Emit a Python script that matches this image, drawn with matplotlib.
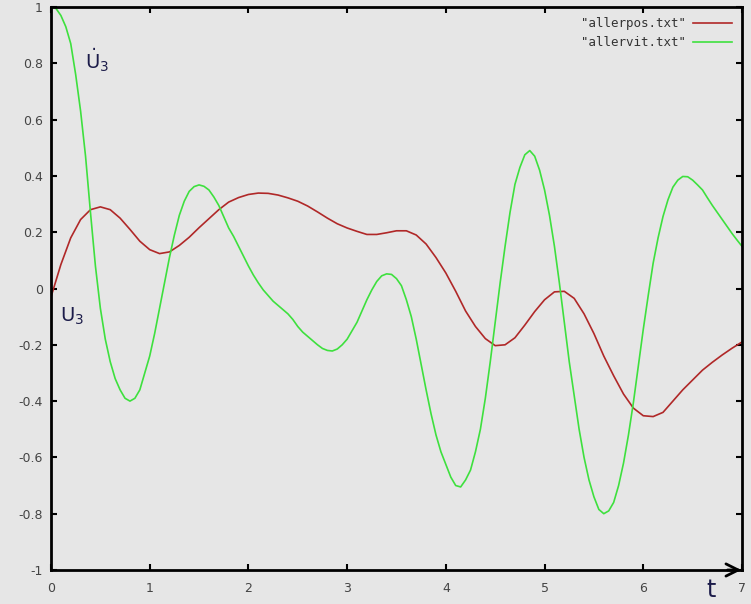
import numpy as np
import matplotlib
matplotlib.use("Agg")
import matplotlib.pyplot as plt
from matplotlib.ticker import FuncFormatter, MultipleLocator

# position series, sampled every 0.1
t_pos = np.round(np.arange(0, 7.01, 0.1), 2)
allerpos = [
    -0.03, 0.085, 0.18, 0.245, 0.28, 0.29, 0.28, 0.25, 0.21, 0.168,
    0.138, 0.124, 0.13, 0.153, 0.182, 0.216, 0.248, 0.28, 0.307, 0.323,
    0.334, 0.339, 0.338, 0.332, 0.322, 0.31, 0.293, 0.272, 0.25, 0.23,
    0.215, 0.203, 0.192, 0.192, 0.198, 0.205, 0.205, 0.19, 0.158, 0.11,
    0.055, -0.01, -0.08, -0.135, -0.178, -0.203, -0.2, -0.175, -0.13, -0.082,
    -0.04, -0.012, -0.01, -0.035, -0.09, -0.16, -0.24, -0.31, -0.375, -0.425,
    -0.452, -0.455, -0.44, -0.40, -0.36, -0.325, -0.29, -0.262, -0.236, -0.212,
    -0.19,
]

# velocity series, sampled every 0.05
t_vit = np.round(np.arange(0, 7.001, 0.05), 2)
allervit = [
    1.0, 0.995, 0.97, 0.93, 0.87, 0.76, 0.63, 0.47, 0.27, 0.08,
    -0.07, -0.18, -0.26, -0.32, -0.36, -0.39, -0.40, -0.39, -0.36, -0.30,
    -0.24, -0.16, -0.07, 0.02, 0.11, 0.19, 0.26, 0.31, 0.345, 0.362,
    0.368, 0.363, 0.35, 0.325, 0.295, 0.255, 0.215, 0.185, 0.15, 0.115,
    0.08, 0.048, 0.02, -0.005, -0.025, -0.045, -0.06, -0.075, -0.09, -0.11,
    -0.135, -0.155, -0.17, -0.185, -0.20, -0.213, -0.22, -0.222, -0.215, -0.2,
    -0.18, -0.15, -0.12, -0.08, -0.04, -0.005, 0.025, 0.045, 0.052, 0.05,
    0.035, 0.01, -0.04, -0.10, -0.18, -0.27, -0.36, -0.445, -0.52, -0.58,
    -0.625, -0.67, -0.70, -0.705, -0.68, -0.645, -0.58, -0.50, -0.39, -0.26,
    -0.12, 0.02, 0.15, 0.27, 0.37, 0.43, 0.475, 0.49, 0.47, 0.42,
    0.35, 0.26, 0.15, 0.02, -0.12, -0.26, -0.38, -0.50, -0.60, -0.68,
    -0.74, -0.785, -0.80, -0.79, -0.76, -0.70, -0.62, -0.52, -0.405, -0.275,
    -0.145, -0.025, 0.09, 0.18, 0.256, 0.315, 0.36, 0.385, 0.398, 0.397,
    0.385, 0.368, 0.35, 0.322, 0.295, 0.27, 0.245, 0.22, 0.195, 0.172,
    0.15,
]

bg = "#e6e6e6"
fig = plt.figure(figsize=(7.51, 6.04), dpi=100, facecolor=bg)
ax = fig.add_axes([0.0679, 0.0563, 0.9201, 0.9321], facecolor=bg)

ax.plot(t_pos, allerpos, color="#b02828", lw=1.2, label='"allerpos.txt"')
ax.plot(t_vit, allervit, color="#3ee03e", lw=1.2, label='"allervit.txt"')

ax.set_xlim(0, 7)
ax.set_ylim(-1, 1)
ax.xaxis.set_major_locator(MultipleLocator(1))
ax.yaxis.set_major_locator(MultipleLocator(0.2))
ax.yaxis.set_major_formatter(FuncFormatter(lambda v, p: "%g" % round(v, 2)))
ax.xaxis.set_major_formatter(FuncFormatter(lambda v, p: "%g" % v))

for s in ax.spines.values():
    s.set_linewidth(2)
    s.set_color("black")

ax.tick_params(direction="in", length=4, width=1.5, top=True, right=True,
               labelsize=9, labelcolor="#444444")
ax.tick_params(axis="x", pad=9)
ax.tick_params(axis="y", pad=6)

# arrow head at the end of the time axis
ax.annotate("", xy=(1.003, 0), xytext=(0.975, 0), xycoords="axes fraction",
            arrowprops=dict(arrowstyle="->", lw=2, color="black",
                            mutation_scale=22), annotation_clip=False)

navy = "#1c1c4a"
ax.text(0.955, -0.035, "t", transform=ax.transAxes, fontsize=17,
        color=navy, ha="center", va="center")
ax.text(0.34, 0.78, r"$\dot{\mathrm{U}}_3$", fontsize=14, color=navy,
        ha="left", va="baseline")
ax.text(0.09, -0.117, r"$\mathrm{U}_3$", fontsize=14, color=navy,
        ha="left", va="baseline")

leg = ax.legend(loc="upper right", frameon=False, markerfirst=False,
                handlelength=3.1, handletextpad=0.6, labelspacing=0.5,
                borderaxespad=0.4, prop={"family": "DejaVu Sans Mono", "size": 9})
for txt in leg.get_texts():
    txt.set_color("#333333")

fig.savefig("out.png", dpi=100, facecolor=bg)
